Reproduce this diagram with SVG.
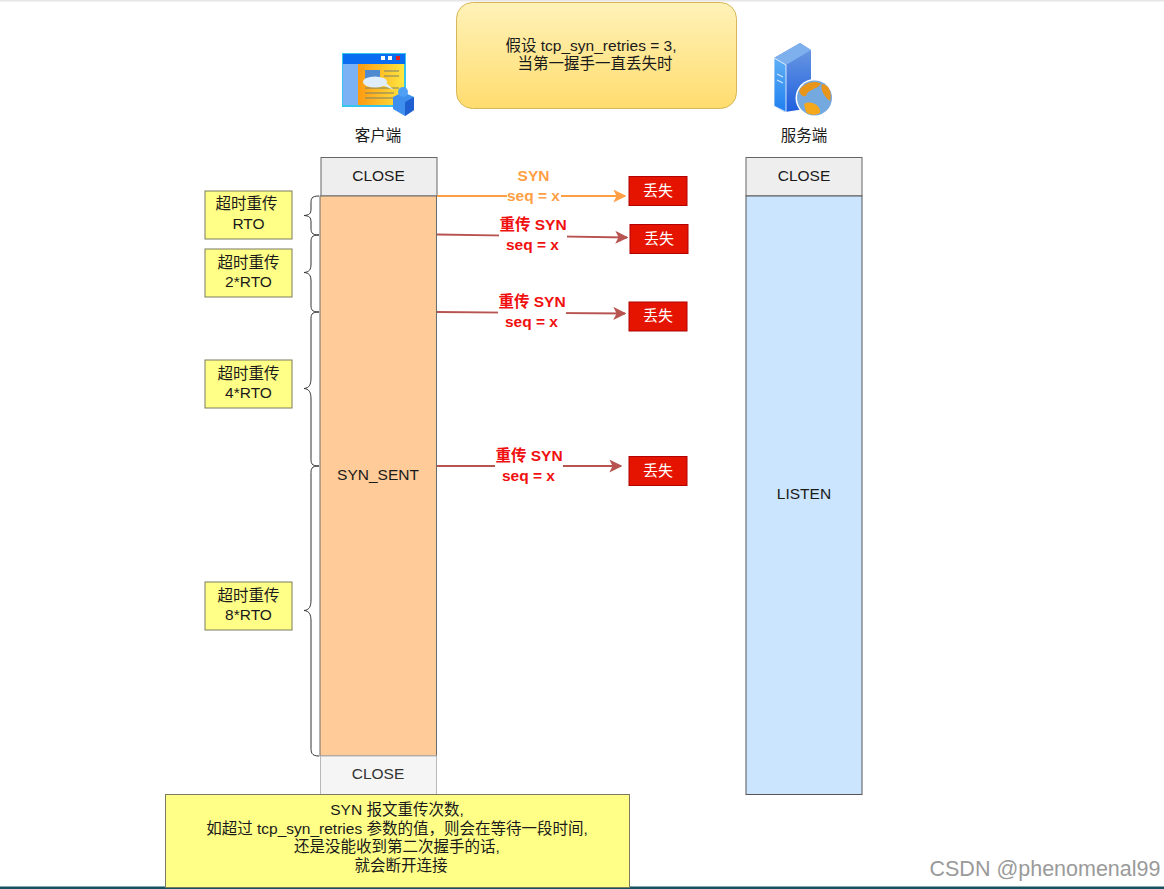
<svg xmlns="http://www.w3.org/2000/svg" width="1164" height="889" viewBox="0 0 1164 889">
<style>
text{font-family:"Liberation Sans","Noto Sans CJK SC",sans-serif;font-size:15.5px;fill:#1a1a1a;text-anchor:middle}
.b{font-weight:bold;fill:#f01010}
.o{font-weight:bold;fill:#ff9f45}
.lost rect{fill:#e51400;stroke:#b20000}
.lost text{fill:#fff;font-size:15px}
.note rect{fill:#ffff88;stroke:#7a7a60}
.c{fill:none;stroke:#b85450;stroke-width:1.8}
.br{fill:none;stroke:#333;stroke-width:1}
</style>
<defs>
<marker id="ar" viewBox="0 0 10 10" refX="9" refY="5" markerWidth="13" markerHeight="13" markerUnits="userSpaceOnUse" orient="auto"><path d="M0 0L10 5L0 10L2.5 5z" fill="#b85450"/></marker>
<marker id="ao" viewBox="0 0 10 10" refX="9" refY="5" markerWidth="13" markerHeight="13" markerUnits="userSpaceOnUse" orient="auto"><path d="M0 0L10 5L0 10L2.5 5z" fill="#ff9f45"/></marker>
<linearGradient id="gy" x1="0" y1="0" x2="0" y2="1"><stop offset="0" stop-color="#fff2b8"/><stop offset="1" stop-color="#ffdc6e"/></linearGradient>
<linearGradient id="gw" x1="0" y1="0" x2="1" y2="0"><stop offset="0" stop-color="#ff9a10"/><stop offset="1" stop-color="#ffe640"/></linearGradient>
<linearGradient id="gs" x1="0" y1="0" x2="0" y2="1"><stop offset="0" stop-color="#6f9ce0"/><stop offset="1" stop-color="#1e5fe0"/></linearGradient>
<linearGradient id="gf" x1="0" y1="0" x2="0" y2="1"><stop offset="0" stop-color="#5fb0f5"/><stop offset="1" stop-color="#1f7ff0"/></linearGradient>
</defs>
<rect width="1164" height="889" fill="#fff"/>
<rect width="1164" height="1.5" fill="#e6e6e6"/>
<rect y="886.500" width="1164" height="2.500" fill="#17505f"/>

<g id="title"><rect x="456.500" y="2.500" width="280" height="106" rx="16" fill="url(#gy)" stroke="#d6b656"/>
<text x="591" y="51">假设 tcp_syn_retries = 3,</text><text x="595" y="69">当第一握手一直丢失时</text></g>

<g id="client-icon">
<rect x="342" y="53" width="64" height="54" fill="#35c4ee"/>
<rect x="343" y="54" width="62" height="10" fill="#0a6cf0"/>
<rect x="381" y="56" width="4" height="4" fill="#fff"/><rect x="388" y="56" width="4" height="4" fill="#fff"/><rect x="396" y="56" width="4" height="4" fill="#e02020"/>
<rect x="343" y="64" width="15" height="41" fill="#7ab2f5"/>
<rect x="358" y="64" width="46" height="41" fill="url(#gw)"/>
<rect x="365" y="70" width="15" height="13" fill="#4f8ad0"/>
<path d="M384 71H399M384 76H399M365 88H399M365 93H394M365 98H394" stroke="#77806a" stroke-width="1.200"/>
<ellipse cx="375" cy="82" rx="12" ry="5.500" fill="#dfeefa"/><path d="M382 85L394 90L385 82z" fill="#dfeefa"/>
<path d="M393 97L403 92L414 97V110L405 116L393 109z" fill="#3f8fef"/>
<path d="M405 102L414 97V110L405 116z" fill="#1f5fd0"/>
<circle cx="403" cy="92" r="5" fill="#4fa0f5"/>
<text x="378" y="141">客户端</text></g>

<g id="server-icon">
<path d="M774 58L800 43L811 50V108L785 112L774 106z" fill="url(#gs)"/>
<path d="M774 58L800 43L811 50L786 65z" fill="#7fb0ee"/>
<path d="M774 58L786 65V112L774 106z" fill="url(#gf)" stroke="#fff" stroke-width="0.800"/>
<path d="M777 74L783 77M777 80L783 83" stroke="#cfe4fa" stroke-width="1.200"/>
<circle cx="814.500" cy="98" r="19" fill="#fff"/>
<circle cx="814.500" cy="98" r="17.500" fill="#74a9e0"/>
<path d="M799 91C804 82 816 80 821 84C816 90 808 89 806 96C803 97 800 95 799 91z" fill="#e8951c"/>
<path d="M804 104C811 100 821 105 820 113C815 116 809 115 806 112z" fill="#f5a81c"/>
<path d="M822 84C830 85 832 94 830 101C825 97 820 91 822 84z" fill="#e8951c"/>
<text x="804" y="141">服务端</text></g>

<g id="client-close-top"><rect x="321" y="157.500" width="116" height="38.500" fill="#eeeeee" stroke="#666"/><text x="378.500" y="181">CLOSE</text></g>
<g id="syn-sent"><rect x="320" y="196" width="116.500" height="560" fill="#ffcc99" stroke="#6b6b6b"/><text x="378" y="480">SYN_SENT</text></g>
<g id="client-close-bottom"><rect x="320.500" y="756" width="116" height="40" fill="#f5f5f5" stroke="#b8b8b8"/><text x="378" y="779" style="fill:#333">CLOSE</text></g>
<g id="server-close"><rect x="746" y="157.500" width="116" height="38.500" fill="#eeeeee" stroke="#666"/><text x="804" y="181">CLOSE</text></g>
<g id="listen"><rect x="746" y="196" width="116" height="598.500" fill="#cce5ff" stroke="#555"/><text x="804" y="499">LISTEN</text></g>

<g id="connectors">
<path d="M437 196H625" fill="none" stroke="#ff9f45" stroke-width="2" marker-end="url(#ao)"/>
<path class="c" d="M437 234.500L627 237.500" marker-end="url(#ar)"/>
<path class="c" d="M437 312L625 313.500" marker-end="url(#ar)"/>
<path class="c" d="M437 466H621" marker-end="url(#ar)"/>
<path class="br" d="M319 196C311 196 311 199 311 204V209C311 214 309 215 304 215.500C309 216 311 217 311 222V227C311 232 311 235 319 235"/>
<path class="br" d="M319 235C311 235 311 238 311 243V264C311 270 309 272 304 272.500C309 273 311 275 311 281V304C311 309 311 312 319 312"/>
<path class="br" d="M319 312C311 312 311 315 311 320V378C311 385 309 388 304 388.500C309 389 311 392 311 399V458C311 463 311 466 319 466"/>
<path class="br" d="M319 466C311 466 311 469 311 474V600C311 607 309 610 304 610.500C309 611 311 614 311 621V747C311 752 311 756 319 756"/>
</g>

<g id="label-1"><rect x="507" y="188" width="54" height="17" fill="#fff"/><text class="o" x="533.500" y="181">SYN</text><text class="o" x="533.500" y="201">seq = x</text></g>
<g id="label-2"><rect x="499" y="216" width="68" height="38" fill="#fff"/><text class="b" x="533" y="230">重传 SYN</text><text class="b" x="532.500" y="250">seq = x</text></g>
<g id="label-3"><rect x="498" y="293" width="68" height="38" fill="#fff"/><text class="b" x="532" y="307">重传 SYN</text><text class="b" x="531.500" y="327">seq = x</text></g>
<g id="label-4"><rect x="495" y="447" width="68" height="38" fill="#fff"/><text class="b" x="529" y="461">重传 SYN</text><text class="b" x="528.500" y="481">seq = x</text></g>

<g id="lost-1" class="lost"><rect x="629" y="176.500" width="58" height="29"/><text x="658" y="195.500">丢失</text></g>
<g id="lost-2" class="lost"><rect x="630" y="224.500" width="58" height="29"/><text x="659" y="243.500">丢失</text></g>
<g id="lost-3" class="lost"><rect x="629" y="302" width="58" height="29"/><text x="658" y="321">丢失</text></g>
<g id="lost-4" class="lost"><rect x="629" y="456.500" width="58" height="29"/><text x="658" y="475.500">丢失</text></g>

<g id="rto-1" class="note"><rect x="205" y="191" width="87" height="48"/><text x="246.500" y="209">超时重传</text><text x="248.500" y="229">RTO</text></g>
<g id="rto-2" class="note"><rect x="205" y="249" width="87" height="48"/><text x="248.500" y="268">超时重传</text><text x="248.500" y="287">2*RTO</text></g>
<g id="rto-4" class="note"><rect x="205" y="360" width="87" height="48"/><text x="248.500" y="379">超时重传</text><text x="248.500" y="398">4*RTO</text></g>
<g id="rto-8" class="note"><rect x="205" y="582" width="87" height="48"/><text x="248.500" y="601">超时重传</text><text x="248.500" y="620">8*RTO</text></g>

<g id="note" class="note"><rect x="165.500" y="794.500" width="464" height="93"/>
<text x="397" y="814.500">SYN 报文重传次数,</text>
<text x="397" y="833.500">如超过 tcp_syn_retries 参数的值，则会在等待一段时间,</text>
<text x="397" y="852">还是没能收到第二次握手的话,</text>
<text x="401" y="871">就会断开连接</text></g>

<text x="1045" y="876" style="font-size:21.500px;fill:#9a9a9a">CSDN @phenomenal99</text>
</svg>
